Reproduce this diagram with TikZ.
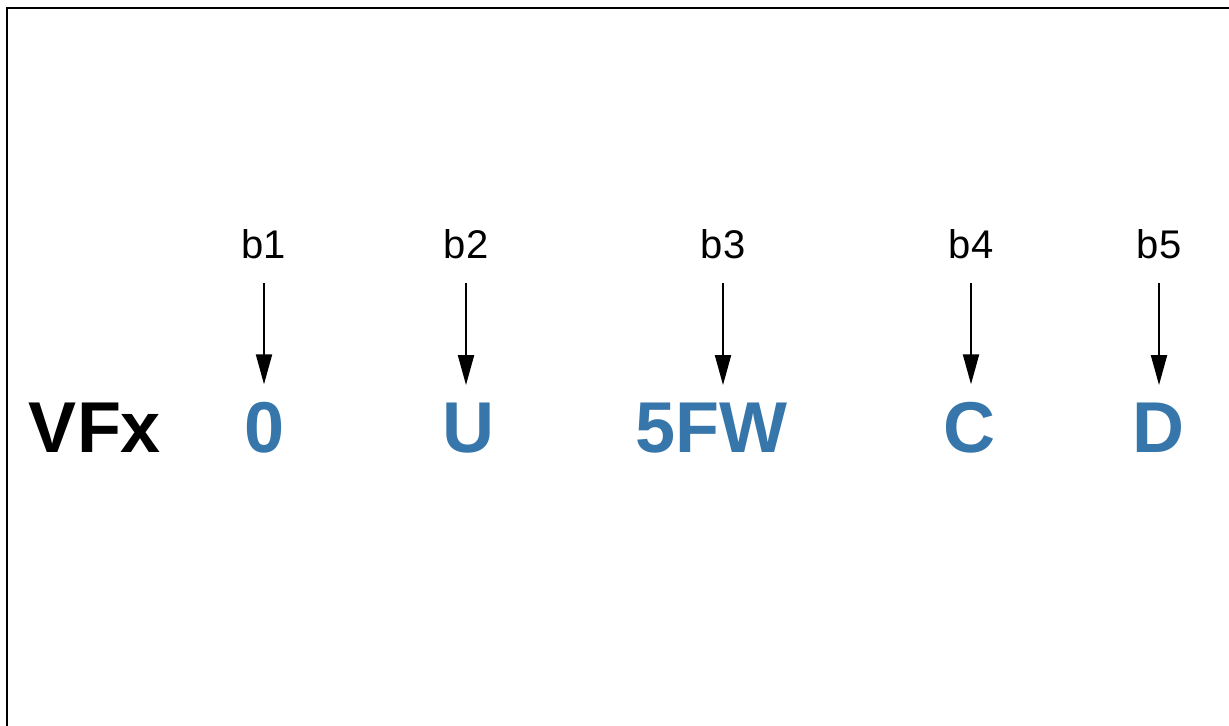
\documentclass[tikz,border=0pt]{standalone}
\usepackage{xcolor}
\usepackage{fontspec}
\setmainfont{Liberation Sans}
\usepackage{tikz}
\usetikzlibrary{arrows.meta,positioning}
\definecolor{codeblue}{RGB}{54,118,170}
\tikzset{
  frame/.style={line width=1pt,line cap=rect},
  bitlabel/.style={inner sep=0pt,anchor=base,font=\fontsize{20pt}{24pt}\selectfont},
  code/.style={inner sep=0pt,anchor=base,text=codeblue,font=\fontsize{36pt}{40pt}\selectfont\bfseries},
  pointer/.style={-{Triangle[length=15pt,width=8pt]},line width=1pt,
    shorten <=11.5pt,shorten >=8.5pt}
}

\begin{document}
\begin{tikzpicture}[x=0.5pt,y=-0.5pt]
  \useasboundingbox (0,0) rectangle (1229,726);
  \draw[frame] (7,726) -- (7,8) -- (1229,8);

  % the code and its parts
  \node[code,text=black] (vfx) at (95,452) {VFx};
  \node[code] (cd1) at (265,452) {0};
  \node[code] (cd2) at (468,452) {U};
  \node[code] (cd3) at (711,452) {5FW};
  \node[code] (cd4) at (969,452) {C};
  \node[code] (cd5) at (1158,452) {D};

  % bit labels
  \node[bitlabel] (b1) at (264,259) {b1};
  \node[bitlabel] (b2) at (466,259) {b2};
  \node[bitlabel] (b3) at (723,259) {b3};
  \node[bitlabel] (b4) at (971,259) {b4};
  \node[bitlabel] (b5) at (1159,259) {b5};

  \draw[pointer] (b1.south) -- (b1.south |- cd1.north);
  \draw[pointer] (b2.south) -- (b2.south |- cd2.north);
  \draw[pointer] (b3.south) -- (b3.south |- cd3.north);
  \draw[pointer] (b4.south) -- (b4.south |- cd4.north);
  \draw[pointer] (b5.south) -- (b5.south |- cd5.north);
\end{tikzpicture}
\end{document}
